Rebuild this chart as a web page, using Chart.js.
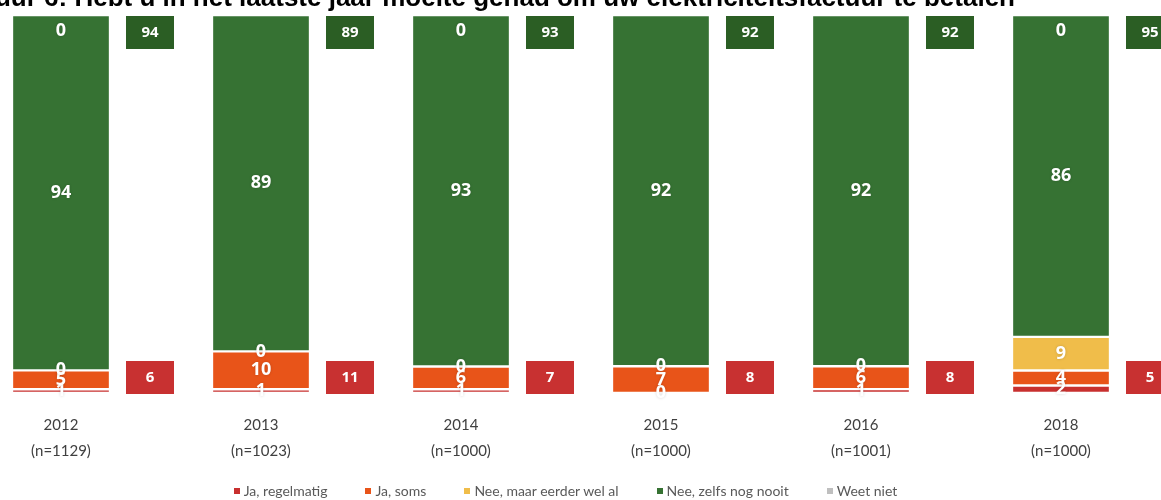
<!DOCTYPE html>
<html lang="nl">
<head>
<meta charset="utf-8">
<title>Moeite met betalen elektriciteitsfactuur</title>
<script src="https://cdn.jsdelivr.net/npm/chart.js@4.4.1/dist/chart.umd.min.js"></script>
<style>
  html, body { margin: 0; padding: 0; background: #fff; overflow: hidden; }
  #wrap { position: relative; width: 1161px; height: 500px; overflow: hidden; }
  #chart { position: absolute; left: 0; top: 0; }
  #title {
    position: absolute; right: 146px; top: -16px;
    white-space: nowrap; color: #000;
    font: bold 26px "Liberation Sans", Arial, sans-serif; line-height: 26px;
  }
  #legend {
    position: absolute; left: -15px; width: 1161px; top: 483px;
    display: flex; justify-content: center; gap: 38px;
    font: 14px Lato, sans-serif; color: #595959; line-height: 16px;
  }
  #legend span { display: flex; align-items: center; }
  #legend i { display: inline-block; width: 6px; height: 6px; margin-right: 4px; }
</style>
</head>
<body>
<div id="wrap">
  <canvas id="chart" width="1161" height="500"></canvas>
  <div id="title">Figuur 6: Hebt u in het laatste jaar moeite gehad om uw elektriciteitsfactuur te betalen</div>
  <div id="legend"></div>
</div>
<script>
const years = ['2012', '2013', '2014', '2015', '2016', '2018'];
const sampleSizes = ['(n=1129)', '(n=1023)', '(n=1000)', '(n=1000)', '(n=1001)', '(n=1000)'];

// answers in % per survey year
const jaRegelmatig = [1, 1, 1, 0, 1, 2];
const jaSoms = [5, 10, 6, 7, 6, 4];
const neeEerder = [0, 0, 0, 0, 0, 9];
const neeNooit = [94, 89, 93, 92, 92, 86];
const weetNiet = [0, null, 0, null, null, 0];

// rounded totals shown in the boxes next to each bar
const jaTotaal = [6, 11, 7, 8, 8, 5];
const neeTotaal = [94, 89, 93, 92, 92, 95];

const series = [
  { label: 'Ja, regelmatig', values: jaRegelmatig, color: '#c8302f' },
  { label: 'Ja, soms', values: jaSoms, color: '#e85419' },
  { label: 'Nee, maar eerder wel al', values: neeEerder, color: '#f0bd4a' },
  { label: 'Nee, zelfs nog nooit', values: neeNooit, color: '#367233' },
  { label: 'Weet niet', values: weetNiet, color: '#bfbfbf' }
];

// each bar is drawn as a 100% stack
const yearSums = years.map((_, i) => series.reduce((s, ser) => s + (ser.values[i] || 0), 0));

const datasets = series.map(ser => ({
  label: ser.label,
  values: ser.values,
  data: ser.values.map((v, i) => ({ x: i, y: v === null ? null : v / yearSums[i] * 100 })),
  backgroundColor: ser.color,
  borderColor: '#ffffff',
  borderWidth: 1.5,
  borderSkipped: false,
  barThickness: 98
}));

const legendEl = document.getElementById('legend');
series.forEach(ser => {
  const item = document.createElement('span');
  const box = document.createElement('i');
  box.style.background = ser.color;
  item.appendChild(box);
  item.appendChild(document.createTextNode(ser.label));
  legendEl.appendChild(item);
});

const segmentLabels = {
  id: 'segmentLabels',
  afterDatasetsDraw(chart) {
    const ctx = chart.ctx;
    const top = chart.scales.y.getPixelForValue(100);
    const bottom = chart.scales.y.getPixelForValue(0);
    const nooitMeta = chart.getDatasetMeta(3);
    ctx.save();
    ctx.textAlign = 'center';
    ctx.textBaseline = 'middle';

    // total boxes: "nee" at the top, "ja" at the bottom
    ctx.font = 'bold 15px "Open Sans", sans-serif';
    nooitMeta.data.forEach((bar, i) => {
      const bx = bar.x + 65;
      ctx.fillStyle = '#2b5e24';
      ctx.fillRect(bx, top + 1, 48, 33);
      ctx.fillStyle = '#c83131';
      ctx.fillRect(bx, bottom - 32, 48, 33);
      ctx.fillStyle = '#ffffff';
      ctx.fillText(String(neeTotaal[i]), bx + 24, top + 18);
      ctx.fillText(String(jaTotaal[i]), bx + 24, bottom - 15);
    });

    // value labels on the segments
    ctx.font = 'bold 18px "Open Sans", sans-serif';
    ctx.shadowColor = 'rgba(0,0,0,0.18)';
    ctx.shadowBlur = 3;
    chart.data.datasets.forEach((ds, d) => {
      const meta = chart.getDatasetMeta(d);
      meta.data.forEach((bar, i) => {
        const v = ds.values[i];
        if (v === null) return;
        let y = (bar.y + bar.base) / 2;
        if (d === series.length - 1 && v === 0) y = bar.y + 16;
        ctx.fillStyle = '#ffffff';
        ctx.fillText(String(v), bar.x, y);
      });
    });
    ctx.restore();
  }
};

new Chart(document.getElementById('chart'), {
  type: 'bar',
  data: { datasets: datasets },
  plugins: [segmentLabels],
  options: {
    responsive: false,
    animation: false,
    devicePixelRatio: 1,
    layout: { padding: { top: 15, bottom: 27, left: 0, right: 0 } },
    scales: {
      x: {
        type: 'linear',
        stacked: true,
        offset: false,
        min: -0.305,
        max: 5.5,
        grid: { display: false, drawTicks: false },
        border: { display: false },
        afterFit: scale => { scale.height = 80; },
        ticks: {
          stepSize: 1,
          includeBounds: false,
          autoSkip: false,
          maxRotation: 0,
          padding: 19,
          color: '#404040',
          font: { family: 'Lato', size: 15, lineHeight: 1.75 },
          callback: v => (Number.isInteger(v) && years[v]) ? [years[v], sampleSizes[v]] : ''
        }
      },
      y: { display: false, stacked: true, min: 0, max: 100 }
    },
    plugins: {
      tooltip: { enabled: false },
      legend: { display: false }
    }
  }
});
</script>
</body>
</html>
